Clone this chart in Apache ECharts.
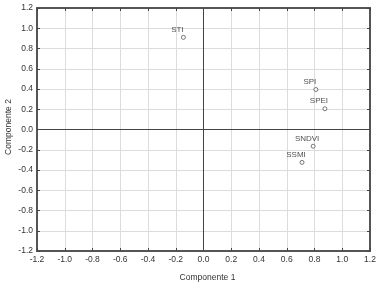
<!DOCTYPE html>
<html><head><meta charset="utf-8">
<script src="https://cdn.jsdelivr.net/npm/echarts@6/dist/echarts.min.js"></script>
<style>html,body{margin:0;padding:0;background:#fff}#c{width:384px;height:288px}</style>
</head><body><div id="c"></div>
<script>
const names = ['STI','SPI','SPEI','SNDVI','SSMI'];
const comp1 = [-0.145, 0.81, 0.875, 0.79, 0.71];
const comp2 = [0.91, 0.395, 0.205, -0.165, -0.325];
const xTitle = 'Componente 1';
const yTitle = 'Componente 2';

const font = 'Liberation Sans, Arial, sans-serif';
const chart = echarts.init(document.getElementById('c'), null, {renderer:'canvas'});
const data = names.map((n,i)=>({name:n, value:[comp1[i], comp2[i]]}));
function ax(extra){
  return Object.assign({
    type:'value', min:-1.2, max:1.2, interval:0.2,
    axisLine:{show:true, onZero:false, lineStyle:{color:'#555', width:2}},
    axisTick:{show:true, inside:true, length:3, lineStyle:{color:'#444', width:1}},
    splitLine:{show:true, lineStyle:{color:'#dcdcdc', width:1}},
    axisLabel:{fontSize:8.5, color:'#333', fontFamily:font, margin:4, formatter:v=>v.toFixed(1)}
  }, extra);
}
chart.setOption({
  animation:false,
  backgroundColor:'#fff',
  grid:{left:37, right:14, top:8, bottom:37, containLabel:false, outerBoundsMode:'none'},
  xAxis:[
    ax({position:'bottom', name:xTitle, nameLocation:'middle', nameGap:22, nameMoveOverlap:false,
      nameTextStyle:{fontSize:8.5, color:'#333', fontFamily:font, padding:[0,0,0,8]}}),
    ax({position:'top', axisLabel:{show:false}, splitLine:{show:false}})
  ],
  yAxis:[
    ax({position:'left', name:yTitle, nameLocation:'middle', nameGap:24, nameMoveOverlap:false,
      nameTextStyle:{fontSize:8.5, color:'#333', fontFamily:font, padding:[0,0,0,5]}}),
    ax({position:'right', axisLabel:{show:false}, splitLine:{show:false}})
  ],
  series:[{
    type:'scatter', data:data, symbol:'circle', symbolSize:4,
    itemStyle:{color:'#fff', borderColor:'#555', borderWidth:1},
    label:{show:true, position:'top', distance:1, offset:[-6,0], formatter:p=>p.name,
      fontSize:8, color:'#222', fontFamily:font},
    markLine:{silent:true, symbol:'none', label:{show:false},
      lineStyle:{color:'#444', width:1, type:'solid'},
      data:[{xAxis:0},{yAxis:0}]}
  }]
});
</script></body></html>
